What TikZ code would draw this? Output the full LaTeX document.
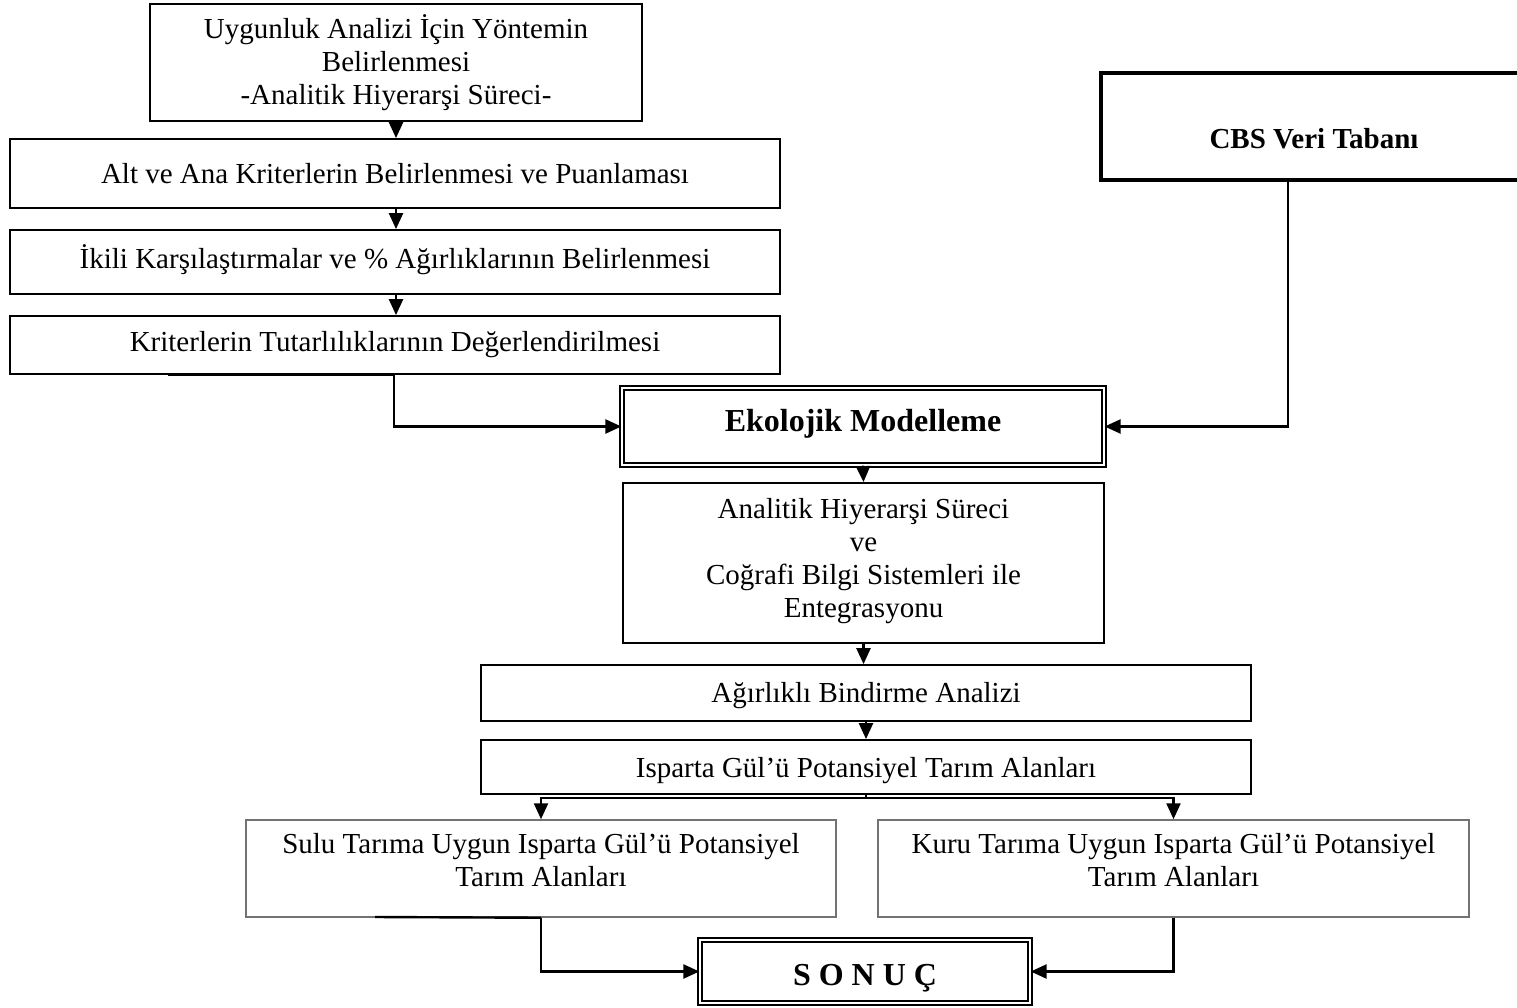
\documentclass[tikz,border=0pt]{standalone}
\usepackage{fontspec}
\setmainfont{Liberation Serif}
\usetikzlibrary{arrows.meta}
% centred block of lines, lifted by #1 inside its box
\newcommand\boxlines[2]{\raisebox{#1}[0pt][0pt]{\begin{tabular}{@{}c@{}}#2\end{tabular}}}
\begin{document}
\begin{tikzpicture}[x=1pt,y=-1pt,
  box/.style={draw, line width=1.8pt, inner sep=0pt, align=center,
    font=\fontsize{29}{33}\selectfont},
  softbox/.style={box, draw=black!55, line width=1.5pt},
  heavybox/.style={box, line width=3.8pt, font=\bfseries\fontsize{29}{33}\selectfont},
  dblbox/.style={draw, double, double distance=2.6pt, line width=1.3pt, inner sep=0pt,
    font=\bfseries\fontsize{32}{36}\selectfont},
  link/.style={line width=2.4pt, -{Triangle[length=16pt,width=14pt]}},
  plain/.style={line width=2.4pt}
]
\useasboundingbox (0,0) rectangle (1517,1008);

% left column: method steps
\node[box, minimum width=492pt, minimum height=117pt] (meth) at (396,62.5)
  {\boxlines{-8pt}{Uygunluk Analizi İçin Yöntemin\\Belirlenmesi\\-Analitik Hiyerarşi Süreci-}};
\node[box, minimum width=770pt, minimum height=69pt] (crit) at (395,173.5)
  {\boxlines{-10pt}{Alt ve Ana Kriterlerin Belirlenmesi ve Puanlaması}};
\node[box, minimum width=770pt, minimum height=64pt] (pair) at (395,262)
  {\boxlines{-6pt}{İkili Karşılaştırmalar ve \% Ağırlıklarının Belirlenmesi}};
\node[box, minimum width=770pt, minimum height=58pt] (cons) at (395,345)
  {\boxlines{-6pt}{Kriterlerin Tutarlılıklarının Değerlendirilmesi}};

% GIS database
\node[heavybox, minimum width=426pt, minimum height=107pt] (cbs) at (1314,126.5)
  {\boxlines{-21.5pt}{CBS Veri Tabanı}};

% central chain
\node[dblbox, minimum width=482pt, minimum height=77pt] (eko) at (863,426.5)
  {\boxlines{-4pt}{Ekolojik Modelleme}};
\node[box, minimum width=481pt, minimum height=160pt] (ahp) at (863.5,563)
  {\boxlines{-5pt}{Analitik Hiyerarşi Süreci\\ve\\Coğrafi Bilgi Sistemleri ile\\Entegrasyonu}};
\node[box, minimum width=770pt, minimum height=56pt] (agr) at (866,693)
  {\boxlines{-9pt}{Ağırlıklı Bindirme Analizi}};
\node[box, minimum width=770pt, minimum height=54pt] (isp) at (866,767)
  {\boxlines{-10pt}{Isparta Gül’ü Potansiyel Tarım Alanları}};
\node[softbox, minimum width=590pt, minimum height=97pt] (sulu) at (541,868.5)
  {\boxlines{-1.5pt}{Sulu Tarıma Uygun Isparta Gül’ü Potansiyel\\Tarım Alanları}};
\node[softbox, minimum width=591pt, minimum height=97pt] (kuru) at (1173.5,868.5)
  {\boxlines{-1.5pt}{Kuru Tarıma Uygun Isparta Gül’ü Potansiyel\\Tarım Alanları}};
\node[dblbox, minimum width=330pt, minimum height=63pt] (son) at (865,971.5)
  {\boxlines{-13.5pt}{S O N U Ç}};

% connectors
\coordinate (consA) at (168,375);
\coordinate (consB) at (394,375);
\coordinate (cbsA) at (1288,180);
\coordinate (suluA) at (375,917);

\draw[link] (meth.south) -- (meth.south |- crit.north);
\draw[link] (meth.south |- crit.south) -- (meth.south |- pair.north);
\draw[link] (meth.south |- pair.south) -- (meth.south |- cons.north);
\draw[plain] (consA) -- (consB);
\draw[link] (consB) |- (eko.west);
\draw[link] (cbsA) |- (eko.east);
\draw[link] (eko.south) -- (ahp.north);
\draw[link] (ahp.south) -- (ahp.south |- agr.north);
\draw[link] (agr.south) -- (isp.north);
\draw[link] (isp.south) -- ++(0,3) -| (sulu.north);
\draw[link] (isp.south) -- ++(0,3) -| (kuru.north);
\draw[plain] (suluA) -- (sulu.south);
\draw[link] (sulu.south) |- (son.west);
\draw[link] (kuru.south) |- (son.east);
\end{tikzpicture}
\end{document}
